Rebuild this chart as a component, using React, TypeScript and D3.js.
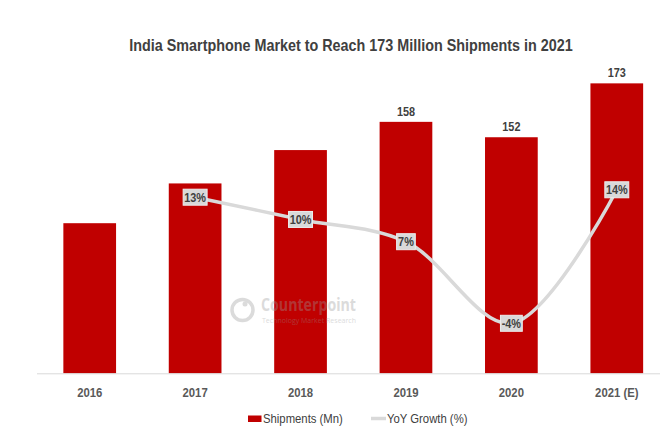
import { useRef, useEffect } from 'react';
import * as d3 from 'd3';

const years = ['2016', '2017', '2018', '2019', '2020', '2021 (E)'];
const shipments = [118.5, 134, 147, 158, 152, 173];
const shipmentLabels = [null, null, null, '158', '152', '173'];
const growth = [null, 13, 10, 7, -4, 14];
const legendLabels = ['Shipments (Mn)', 'YoY Growth (%)'];
const title = 'India Smartphone Market to Reach 173 Million Shipments in 2021';

const RED = '#C00000';
const GREY = '#D9D9D9';
const FONT = '"Liberation Sans", Arial, sans-serif';
// no narrow font installed: squeeze glyphs horizontally instead
const NARROW = 0.87;

function squeeze(sel: d3.Selection<SVGTextElement, any, any, any>) {
  sel.each(function () {
    const t = this as SVGTextElement;
    t.setAttribute('textLength', String(t.getComputedTextLength() * NARROW));
    t.setAttribute('lengthAdjust', 'spacingAndGlyphs');
  });
}

export default function App() {
  const svgRef = useRef<SVGSVGElement>(null);

  useEffect(() => {
    if (!svgRef.current) return;
    document.body.style.margin = '0';
    const width = 660;
    const height = 440;

    const svg = d3.select(svgRef.current);
    svg.selectAll('*').remove();
    svg.attr('width', width).attr('height', height).style('font-family', FONT);

    const x = d3.scaleBand<string>().domain(years).range([37, 669.5]).paddingInner(0.5).paddingOuter(0.25);
    const y = d3.scaleLinear().domain([60, 180]).range([373.3, 65.4]);
    const y2 = d3.scaleLinear().domain([-10, 30]).range([367.8, 71.1]);
    const cx = (yr: string) => (x(yr) ?? 0) + x.bandwidth() / 2;

    // Title
    svg.append('text')
      .attr('class', 'sq')
      .attr('x', 351).attr('y', 51)
      .attr('text-anchor', 'middle')
      .attr('font-size', 16.5).attr('font-weight', 'bold')
      .attr('fill', '#404040')
      .text(title);

    // Bars
    svg.append('g').selectAll('rect')
      .data(shipments)
      .join('rect')
      .attr('x', (_, i) => x(years[i]) ?? 0)
      .attr('y', (d) => y(d))
      .attr('width', x.bandwidth())
      .attr('height', (d) => y(60) - y(d))
      .attr('fill', RED);

    // Baseline
    svg.append('line')
      .attr('x1', 37).attr('x2', 660)
      .attr('y1', y(60) + 0.5).attr('y2', y(60) + 0.5)
      .attr('stroke', GREY).attr('stroke-width', 1);

    // Category labels
    svg.append('g').selectAll('text')
      .data(years)
      .join('text')
      .attr('class', 'sq')
      .attr('x', (d) => cx(d))
      .attr('y', 396.5)
      .attr('text-anchor', 'middle')
      .attr('font-size', 13).attr('font-weight', 'bold')
      .attr('fill', '#595959')
      .text((d) => d);

    // Bar value labels
    svg.append('g').selectAll('text')
      .data(shipments.map((v, i) => ({ v, i, label: shipmentLabels[i] })).filter((d) => d.label))
      .join('text')
      .attr('class', 'sq')
      .attr('x', (d) => cx(years[d.i]))
      .attr('y', (d) => y(d.v) - 6)
      .attr('text-anchor', 'middle')
      .attr('font-size', 12.5).attr('font-weight', 'bold')
      .attr('fill', '#404040')
      .text((d) => d.label as string);

    // Watermark
    const wm = svg.append('g').attr('opacity', 0.35);
    wm.append('circle').attr('cx', 242.5).attr('cy', 310).attr('r', 10.5)
      .attr('fill', 'none').attr('stroke', '#999').attr('stroke-width', 3.5);
    wm.append('circle').attr('cx', 245).attr('cy', 304).attr('r', 2.5).attr('fill', '#999');
    wm.append('text').attr('x', 261).attr('y', 311)
      .attr('font-family', '"Open Sans", sans-serif')
      .attr('font-size', 17).attr('font-weight', 'bold').attr('fill', '#999')
      .attr('textLength', 95).attr('lengthAdjust', 'spacingAndGlyphs')
      .text('Counterpoint');
    wm.append('text').attr('x', 262).attr('y', 322.5)
      .attr('font-family', '"Open Sans", sans-serif')
      .attr('font-size', 7).attr('fill', '#999')
      .attr('textLength', 94).attr('lengthAdjust', 'spacingAndGlyphs')
      .text('Technology Market Research');

    // Growth line
    const pts = growth
      .map((g, i) => ({ g, yr: years[i] }))
      .filter((d) => d.g !== null) as { g: number; yr: string }[];
    const line = d3.line<{ g: number; yr: string }>()
      .x((d) => cx(d.yr))
      .y((d) => y2(d.g))
      .curve(d3.curveCatmullRom.alpha(0.5));
    svg.append('path')
      .datum(pts)
      .attr('fill', 'none')
      .attr('stroke', GREY)
      .attr('stroke-width', 3.5)
      .attr('stroke-linecap', 'round')
      .attr('d', line);

    // Growth labels
    const lbl = svg.append('g').selectAll('g').data(pts).join('g')
      .attr('transform', (d) => `translate(${cx(d.yr)},${y2(d.g)})`);
    const txt = lbl.append('text')
      .attr('text-anchor', 'middle')
      .attr('dy', 4.5)
      .attr('font-size', 12.5).attr('font-weight', 'bold')
      .attr('fill', '#404040')
      .text((d) => `${d.g}%`);
    squeeze(txt);
    txt.each(function () {
      const t = this as SVGTextElement;
      const w = t.getComputedTextLength() * NARROW + 5;
      d3.select(t.parentNode as SVGGElement).insert('rect', 'text')
        .attr('x', -w / 2).attr('y', -8)
        .attr('width', w).attr('height', 16)
        .attr('fill', GREY)
        .attr('stroke', '#EDEDED').attr('stroke-width', 1);
    });

    // Legend
    const lg = svg.append('g');
    lg.append('rect').attr('x', 248).attr('y', 415.5).attr('width', 13.5).attr('height', 6.5).attr('fill', RED);
    lg.append('text').attr('class', 'sq').attr('x', 263).attr('y', 423)
      .attr('font-size', 13).attr('fill', '#404040').text(legendLabels[0]);
    lg.append('line').attr('x1', 371).attr('x2', 386).attr('y1', 418.5).attr('y2', 418.5)
      .attr('stroke', GREY).attr('stroke-width', 3.5);
    lg.append('text').attr('class', 'sq').attr('x', 387).attr('y', 423)
      .attr('font-size', 13).attr('fill', '#404040').text(legendLabels[1]);

    squeeze(svg.selectAll<SVGTextElement, unknown>('text.sq'));
  }, []);

  return <svg ref={svgRef} style={{ display: 'block' }} />;
}
